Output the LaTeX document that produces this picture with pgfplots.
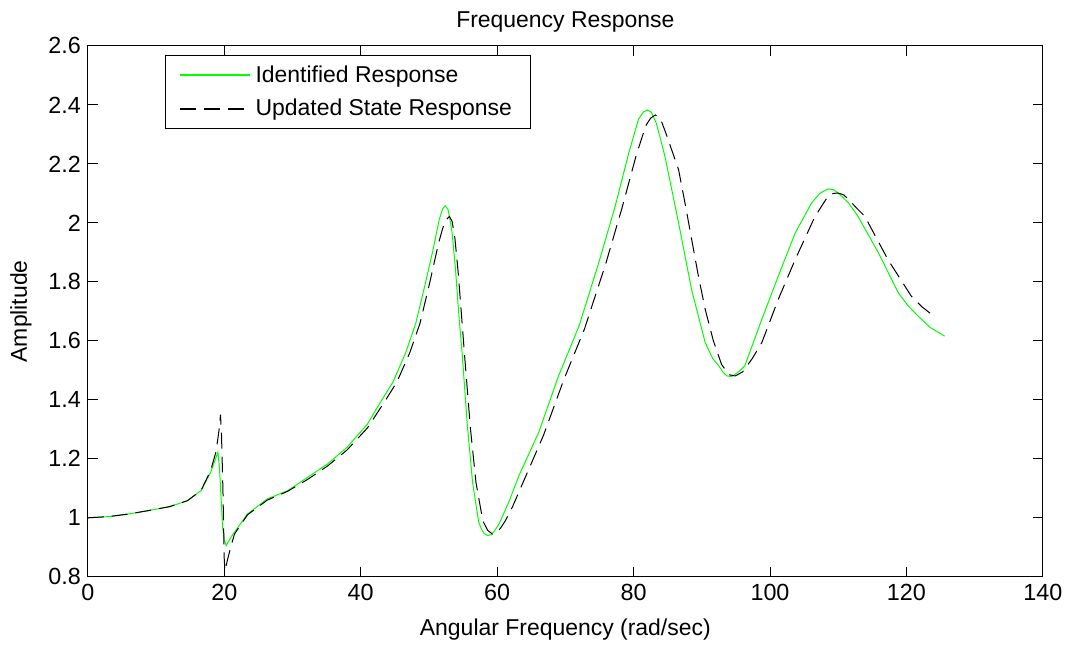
\documentclass[border=0pt]{standalone}
\usepackage{pgfplots}
\pgfplotsset{compat=1.18}
\usepackage{fontspec}
\setmainfont{Liberation Sans}
\definecolor{mgreen}{rgb}{0,1,0}

\pgfplotstableread{
x y
0 1.000
3 1.004
6 1.013
9 1.025
12 1.038
14.6 1.058
16.6 1.092
18.0 1.154
18.8 1.205
19.07 1.222
19.3 1.17
19.55 1.06
19.75 0.97
20.0 0.925
20.3 0.906
21.0 0.935
21.5 0.951
23.4 1.013
26.3 1.064
29.3 1.092
32.2 1.137
35.1 1.182
38.0 1.239
41.0 1.318
42.7 1.385
44.7 1.459
46.6 1.56
48.1 1.662
49.5 1.797
50.5 1.898
51.5 2.01
52.0 2.047
52.4 2.058
52.8 2.045
53.1 2.01
53.4 1.966
53.9 1.842
54.4 1.684
54.9 1.55
55.6 1.323
56.4 1.12
57.3 0.985
57.7 0.962
58.1 0.947
58.6 0.94
59.1 0.943
59.6 0.955
60.3 0.98
61.7 1.053
63.2 1.143
66.1 1.29
69.0 1.481
72.0 1.65
74.9 1.865
77.3 2.056
79.3 2.237
80.7 2.35
81.4 2.375
82.0 2.383
82.6 2.375
83.3 2.34
84.0 2.28
84.6 2.225
86.6 2.0
88.5 1.774
90.5 1.594
91.6 1.54
92.5 1.515
93.1 1.494
93.7 1.481
94.3 1.479
94.8 1.485
95.5 1.497
96.3 1.515
98.8 1.673
101.2 1.819
103.7 1.966
106.1 2.068
107.3 2.10
108.5 2.115
109.3 2.113
110.0 2.101
111.5 2.068
112.9 2.022
115.9 1.898
118.8 1.763
120.2 1.72
121.7 1.684
123.5 1.645
125.6 1.616
}\identified

\pgfplotstableread{
x y
0 1.000
3 1.004
6 1.013
9 1.025
12 1.038
14.6 1.058
16.6 1.093
18.0 1.16
18.8 1.225
19.25 1.30
19.45 1.35
19.6 1.28
19.8 1.10
20.0 0.86
20.1 0.82
20.5 0.86
21.0 0.905
21.5 0.945
23.4 1.01
26.3 1.06
29.3 1.09
32.2 1.13
35.1 1.175
38.0 1.23
41.0 1.305
43.4 1.39
45.3 1.46
47.2 1.56
48.7 1.66
50.1 1.795
51.4 1.93
52.0 1.98
52.5 2.01
53.0 2.022
53.4 2.005
53.8 1.95
54.3 1.83
54.8 1.68
55.3 1.53
56.1 1.30
56.9 1.12
57.9 0.99
58.6 0.958
59.3 0.945
59.9 0.95
60.5 0.965
61.2 0.99
62.3 1.04
63.8 1.12
66.8 1.28
69.8 1.47
72.8 1.64
75.9 1.86
78.3 2.05
80.4 2.23
81.8 2.33
82.5 2.355
83.2 2.366
84.0 2.35
84.8 2.30
85.7 2.24
86.6 2.18
87.6 2.06
88.5 1.946
89.5 1.82
90.5 1.707
91.7 1.60
92.9 1.52
94.0 1.485
94.9 1.481
96.0 1.495
97.4 1.54
98.8 1.594
101.2 1.74
103.7 1.876
106.6 2.022
108.5 2.09
109.3 2.10
110.0 2.101
110.8 2.095
111.5 2.08
112.7 2.05
113.9 2.022
117.3 1.875
120.7 1.752
122.3 1.715
123.9 1.686
}\updated

\begin{document}
\begin{tikzpicture}
\begin{axis}[
  at={(0,0)}, anchor=south west,
  width=478.5pt, height=266pt, scale only axis,
  xmin=0, xmax=140, ymin=0.8, ymax=2.6,
  xtick={0,20,40,60,80,100,120,140},
  ytick={0.8,1,1.2,1.4,1.6,1.8,2,2.2,2.4,2.6},
  tick align=inside,
  major tick length=5pt,
  axis line style={line width=0.5pt},
  every tick/.style={black, line width=0.5pt},
  font=\fontsize{11.5}{13.5}\selectfont,
  tick label style={font=\fontsize{11.7}{13.5}\selectfont},
  /pgf/number format/assume math mode=true,
  yticklabel style={/pgf/number format/fixed, /pgf/number format/precision=1},
  title={Frequency Response},
  title style={yshift=-2.5pt},
  xlabel={Angular Frequency (rad/sec)},
  xlabel style={yshift=-2.5pt},
  ylabel={Amplitude},
  ylabel style={yshift=1.5pt},
  legend style={at={(rel axis cs:0.0805,0.983)}, anchor=north west,
    draw=black, line width=0.5pt, inner xsep=7pt, inner ysep=2.5pt,
    row sep=2pt,
    nodes={inner sep=2.5pt, anchor=west},
    font=\fontsize{11.5}{13.5}\selectfont},
  legend cell align=left,
  legend image code/.code={\draw[#1, line width=0.75pt] (0pt,0pt) -- (35pt,0pt);},
]
\addplot[mgreen, line width=0.5pt] table[x=x,y=y] {\identified};
\addlegendentry{Identified Response}
\addplot[black, line width=0.5pt, dash pattern=on 8pt off 4pt] table[x=x,y=y] {\updated};
\addlegendentry{Updated State Response}
\end{axis}
\path[use as bounding box] (-44pt,-32.5pt) rectangle (490.5pt,289pt);
\end{tikzpicture}
\end{document}
